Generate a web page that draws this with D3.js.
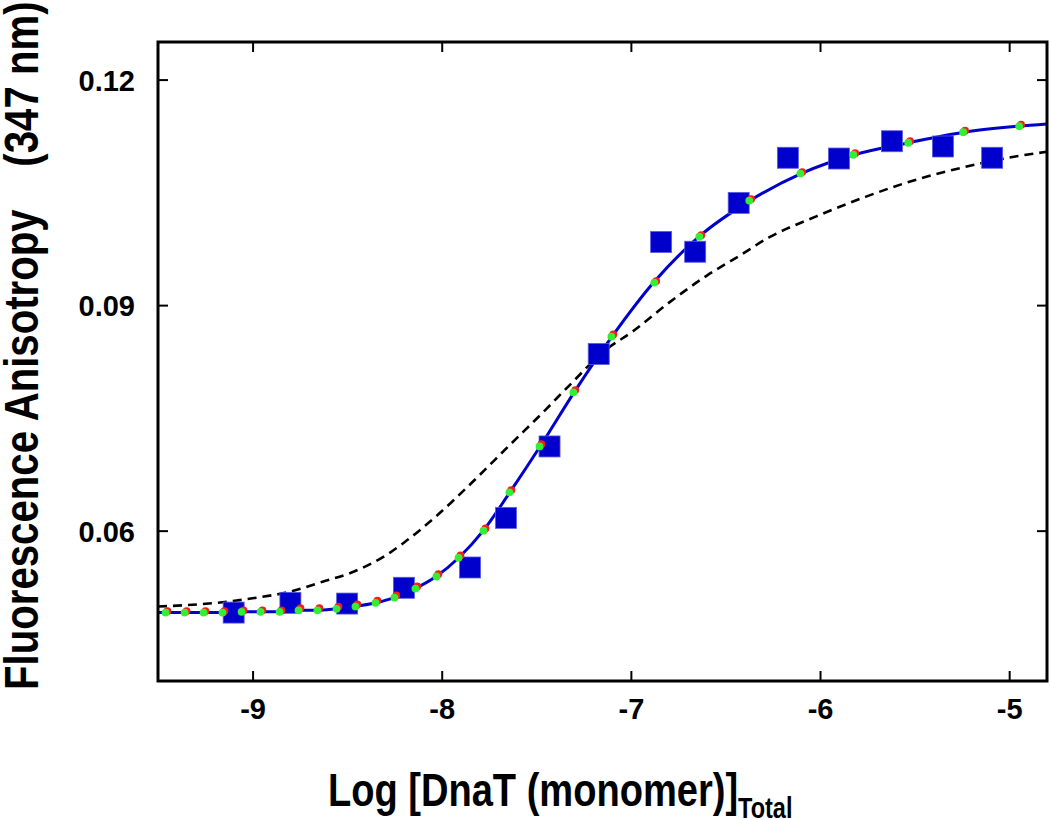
<!DOCTYPE html>
<html>
<head>
<meta charset="utf-8">
<script src="https://cdn.jsdelivr.net/npm/d3@7"></script>
<style>
  html, body { margin: 0; padding: 0; background: #fff; }
  svg text { font-family: "Liberation Sans", Arial, Helvetica, sans-serif; font-weight: bold; fill: #000; }
</style>
</head>
<body>
<svg id="chart" width="1050" height="820"></svg>
<script>
// ---- data ----
const xTicks = [-9, -8, -7, -6, -5];
const yTicks = [0.06, 0.09, 0.12];
const yTickLabels = ["0.06", "0.09", "0.12"];

// measured anisotropy (blue squares)
const expX = [-9.10, -8.80, -8.50, -8.20, -7.85, -7.66, -7.43, -7.17, -6.84, -6.66, -6.43, -6.17, -5.90, -5.62, -5.35, -5.09];
const expY = [0.0491, 0.0504, 0.0503, 0.0524, 0.0551, 0.0617, 0.0712, 0.0835, 0.0984, 0.0971, 0.1036, 0.1096, 0.1095, 0.1118, 0.1111, 0.1096];

// fitted curve (solid blue)
const fitX = [-9.50, -9.46, -9.36, -9.26, -9.16, -9.06, -8.96, -8.86, -8.76, -8.66, -8.56, -8.46, -8.35, -8.25, -8.14, -8.03, -7.91, -7.78, -7.64, -7.48, -7.30, -7.10, -6.88, -6.64, -6.37, -6.10, -5.82, -5.53, -5.24, -4.95, -4.80];
const fitY = [0.0491, 0.0491, 0.0491, 0.0491, 0.0491, 0.0492, 0.0492, 0.0492, 0.0494, 0.0494, 0.0496, 0.0499, 0.0504, 0.0511, 0.0523, 0.0539, 0.0564, 0.0600, 0.0651, 0.0712, 0.0784, 0.0858, 0.0930, 0.0991, 0.1039, 0.1075, 0.1100, 0.1116, 0.1130, 0.1138, 0.1141];

// simulated points (green) and second simulation (red, nearly coincident)
const greenX = [-9.460, -9.359, -9.259, -9.159, -9.058, -8.958, -8.857, -8.757, -8.657, -8.556, -8.456, -8.350, -8.250, -8.139, -8.028, -7.911, -7.779, -7.642, -7.483, -7.304, -7.103, -6.876, -6.638, -6.374, -6.104, -5.824, -5.534, -5.243, -4.947];
const greenY = [0.0491, 0.0491, 0.0491, 0.0491, 0.0492, 0.0492, 0.0492, 0.0494, 0.0494, 0.0496, 0.0499, 0.0504, 0.0511, 0.0523, 0.0539, 0.0564, 0.0600, 0.0651, 0.0712, 0.0784, 0.0858, 0.0930, 0.0991, 0.1039, 0.1075, 0.1100, 0.1116, 0.1130, 0.1138];
const redX = [-9.450, -9.349, -9.249, -9.149, -9.048, -8.948, -8.847, -8.747, -8.647, -8.546, -8.446, -8.340, -8.240, -8.129, -8.018, -7.901, -7.769, -7.632, -7.473, -7.294, -7.093, -6.866, -6.628, -6.364, -6.094, -5.814, -5.524, -5.233, -4.937];
const redY = [0.0493, 0.0493, 0.0493, 0.0493, 0.0494, 0.0494, 0.0494, 0.0497, 0.0497, 0.0499, 0.0502, 0.0507, 0.0514, 0.0526, 0.0542, 0.0567, 0.0603, 0.0654, 0.0715, 0.0787, 0.0861, 0.0932, 0.0993, 0.1041, 0.1077, 0.1102, 0.1118, 0.1132, 0.1140];

// alternative model (dashed black)
const dashX = [-9.50, -9.19, -9.00, -8.80, -8.63, -8.47, -8.29, -8.20, -8.03, -7.84, -7.64, -7.45, -7.33, -7.13, -6.99, -6.80, -6.60, -6.43, -6.27, -6.02, -5.76, -5.49, -5.23, -4.96, -4.80];
const dashY = [0.0499, 0.0504, 0.0510, 0.0519, 0.0532, 0.0545, 0.0568, 0.0584, 0.0619, 0.0664, 0.0714, 0.0761, 0.0792, 0.0841, 0.0865, 0.0903, 0.0939, 0.0965, 0.0990, 0.1018, 0.1044, 0.1067, 0.1084, 0.1098, 0.1104];

// ---- layout ----
const svg = d3.select("#chart");
const L = 158, R = 1047, T = 42, B = 681;
const x = d3.scaleLinear().domain([-9.5, -4.8]).range([L, R]);
const y = d3.scaleLinear().domain([0.04, 0.125]).range([B, T]);

svg.append("clipPath").attr("id", "plotclip")
  .append("rect").attr("x", L).attr("y", T).attr("width", R - L).attr("height", B - T);
const plot = svg.append("g").attr("clip-path", "url(#plotclip)");

const zip = (a, b) => a.map((v, i) => [v, b[i]]);
const line = d3.line().x(d => x(d[0])).y(d => y(d[1])).curve(d3.curveMonotoneX);

plot.append("path").datum(zip(dashX, dashY)).attr("d", line)
  .attr("fill", "none").attr("stroke", "#000").attr("stroke-width", 2.6)
  .attr("stroke-dasharray", "9,6");

plot.append("path").datum(zip(fitX, fitY)).attr("d", line)
  .attr("fill", "none").attr("stroke", "#0000cc").attr("stroke-width", 3);

const S = 21;
plot.selectAll("rect.sq").data(zip(expX, expY)).enter().append("rect")
  .attr("class", "sq")
  .attr("x", d => x(d[0]) - S / 2).attr("y", d => y(d[1]) - S / 2)
  .attr("width", S).attr("height", S)
  .attr("fill", "#0000cc").attr("stroke", "#5a5ae6").attr("stroke-width", 0.8);

plot.selectAll("circle.red").data(zip(redX, redY)).enter().append("circle")
  .attr("cx", d => x(d[0])).attr("cy", d => y(d[1])).attr("r", 3.9).attr("fill", "#ff1a1a");
plot.selectAll("circle.green").data(zip(greenX, greenY)).enter().append("circle")
  .attr("cx", d => x(d[0])).attr("cy", d => y(d[1])).attr("r", 3.9).attr("fill", "#33ee33");

// ---- axes (ticks inside, mirrored) ----
const tk = 10;
const axB = d3.axisBottom(x).tickValues(xTicks).tickSize(-tk).tickFormat(d => String(d));
const gB = svg.append("g").attr("transform", `translate(0,${B})`).call(axB);
const axT = d3.axisTop(x).tickValues(xTicks).tickSize(-tk).tickFormat("");
const gT = svg.append("g").attr("transform", `translate(0,${T})`).call(axT);
const axL = d3.axisLeft(y).tickValues(yTicks).tickSize(-tk).tickFormat((d, i) => yTickLabels[i]);
const gL = svg.append("g").attr("transform", `translate(${L},0)`).call(axL);
const axR = d3.axisRight(y).tickValues(yTicks).tickSize(-tk).tickFormat("");
const gR = svg.append("g").attr("transform", `translate(${R},0)`).call(axR);

[gB, gT, gL, gR].forEach(g => {
  g.select(".domain").remove();
  g.selectAll(".tick line").attr("stroke", "#000").attr("stroke-width", 2);
  g.selectAll(".tick text")
    .style("font-size", "29px").style("font-family", "'Liberation Sans', Arial, sans-serif")
    .style("font-weight", "bold").attr("fill", "#000");
});
gB.selectAll(".tick text").attr("y", 0).attr("dy", 0).attr("transform", "translate(0,38)");
gL.selectAll(".tick text").attr("x", -23).attr("dy", "0.36em");

svg.append("rect").attr("x", L).attr("y", T).attr("width", R - L).attr("height", B - T)
  .attr("fill", "none").attr("stroke", "#000").attr("stroke-width", 3);

// ---- titles (narrow bold, emulated with a horizontal squeeze) ----
const xt = svg.append("text").attr("transform", "translate(328,806) scale(0.81,1)").style("font-size", "47px");
xt.append("tspan").text("Log [DnaT (monomer)]");
xt.append("tspan").attr("dy", 12).style("font-size", "29px").text("Total");

const yt = svg.append("g").attr("transform", "translate(38,690) rotate(-90) scale(0.82,1)");
const ytt = yt.append("text").style("font-size", "49px");
ytt.append("tspan").text("Fluorescence Anisotropy");
ytt.append("tspan").attr("dx", 52).text("(347 nm)");
</script>
</body>
</html>
